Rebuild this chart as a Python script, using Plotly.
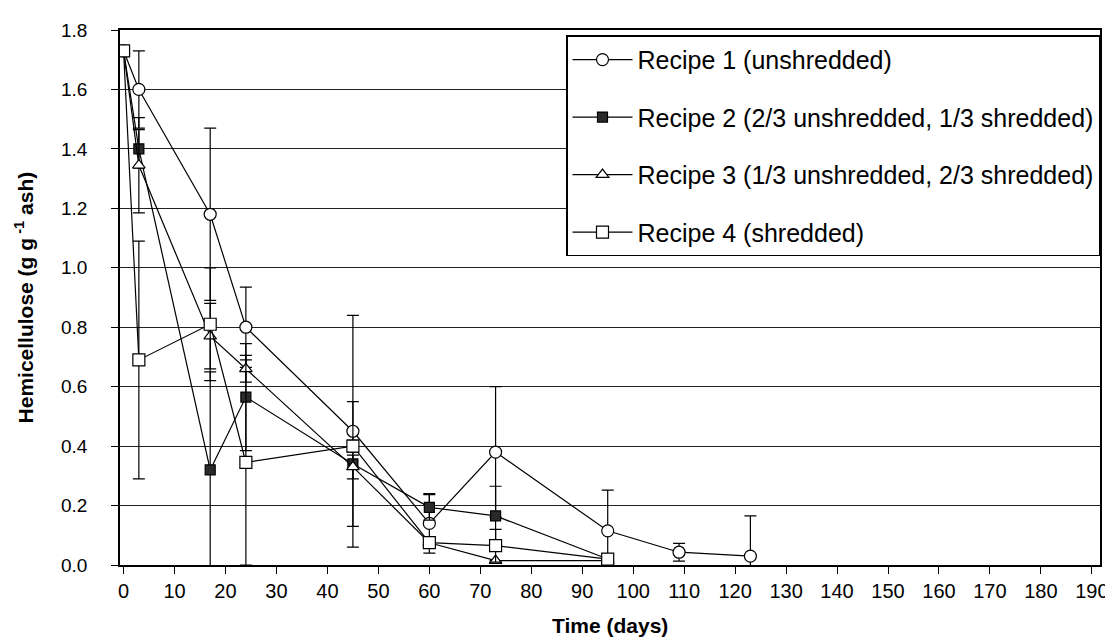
import plotly.graph_objects as go

FONT = 'Liberation Sans, Arial, sans-serif'
NARROW = 'Liberation Sans Narrow, Arial Narrow, Liberation Sans, sans-serif'

# Recipe 1 (unshredded)
days_r1 = [0, 3, 17, 24, 45, 60, 73, 95, 109, 123]
hemi_r1 = [1.73, 1.60, 1.18, 0.80, 0.45, 0.14, 0.38, 0.115, 0.043, 0.03]
err_r1 = [0, 0.13, 0.29, 0.135, 0.39, 0.10, 0.22, 0.137, 0.03, 0.135]

# Recipe 2 (2/3 unshredded, 1/3 shredded)
days_r2 = [0, 3, 17, 24, 45, 60, 73, 95]
hemi_r2 = [1.73, 1.40, 0.32, 0.565, 0.34, 0.194, 0.165, 0.02]
err_r2 = [0, 0.065, 0.33, 0.18, 0.21, 0.043, 0.10, 0]

# Recipe 3 (1/3 unshredded, 2/3 shredded)
days_r3 = [0, 3, 17, 24, 45, 60, 73, 95]
hemi_r3 = [1.73, 1.345, 0.77, 0.66, 0.33, 0.075, 0.015, 0.015]
err_r3 = [0, 0.16, 0.11, 0.045, 0.04, 0, 0, 0]

# Recipe 4 (shredded)
days_r4 = [0, 3, 17, 24, 45, 60, 73, 95]
hemi_r4 = [1.73, 0.69, 0.81, 0.345, 0.40, 0.075, 0.065, 0.02]
err_r4 = [0, 0.40, 0.19, 0.345, 0.02, 0, 0.055, 0]

SERIES = [
    ('Recipe 1 (unshredded)', days_r1, hemi_r1, err_r1,
     dict(symbol='circle', size=12, color='white', line=dict(color='black', width=1.2))),
    ('Recipe 2 (2/3 unshredded, 1/3 shredded)', days_r2, hemi_r2, err_r2,
     dict(symbol='square', size=10, color='#2a2a2a', line=dict(color='black', width=1.2))),
    ('Recipe 3 (1/3 unshredded, 2/3 shredded)', days_r3, hemi_r3, err_r3,
     dict(symbol='triangle-up', size=11, color='white', line=dict(color='black', width=1.2))),
    ('Recipe 4 (shredded)', days_r4, hemi_r4, err_r4,
     dict(symbol='square', size=12, color='white', line=dict(color='black', width=1.2))),
]

fig = go.Figure()
for i, (name, x, y, err, marker) in enumerate(SERIES):
    fig.add_trace(go.Scatter(
        x=x, y=y, name=name, mode='lines+markers',
        line=dict(color='black', width=1.2),
        marker=marker,
        error_y=dict(type='data', array=err, visible=True,
                     color='black', thickness=1.2, width=6),
        legendgroup='g%d' % i,
    ))

fig.update_layout(
    width=1113, height=643,
    margin=dict(l=112, r=20, t=19, b=86),
    paper_bgcolor='white', plot_bgcolor='white',
    font=dict(family=FONT, color='black', size=19),
    showlegend=True,
    legend=dict(
        x=1, xanchor='right', y=0.99, yanchor='top',
        bgcolor='white', bordercolor='black', borderwidth=1.5,
        font=dict(family=FONT, size=25, color='black'),
        traceorder='grouped', tracegroupgap=22,
        itemwidth=60,
    ),
    annotations=[
        dict(text='<b>Time (days)</b>', xref='paper', yref='paper',
             x=0.5, y=-0.113, xanchor='center', yanchor='middle', showarrow=False,
             font=dict(family=FONT, size=21)),
        dict(text='<b>Hemicellulose (g g<sup> -1</sup> ash)</b>', xref='paper', yref='paper',
             x=-0.098, y=0.5, xanchor='center', yanchor='middle', textangle=-90,
             showarrow=False, font=dict(family=FONT, size=21)),
    ],
)

fig.update_xaxes(
    range=[-0.7, 191.6], tickmode='linear', tick0=0, dtick=10,
    ticks='outside', ticklen=7, tickcolor='black', tickwidth=1.2,
    showline=True, linecolor='black', linewidth=1.5, mirror=True,
    showgrid=False, zeroline=False,
    tickfont=dict(family=NARROW, size=20),
)
fig.update_yaxes(
    range=[0, 1.8], tickmode='linear', tick0=0, dtick=0.2, tickformat='.1f',
    ticks='outside', ticklen=7, tickcolor='black', tickwidth=1.2,
    showline=True, linecolor='black', linewidth=1.5, mirror=True,
    showgrid=True, gridcolor='#222', gridwidth=1.2, zeroline=False,
    tickfont=dict(family=FONT, size=19), ticklabelstandoff=20,
)

fig.write_html('out.html')
